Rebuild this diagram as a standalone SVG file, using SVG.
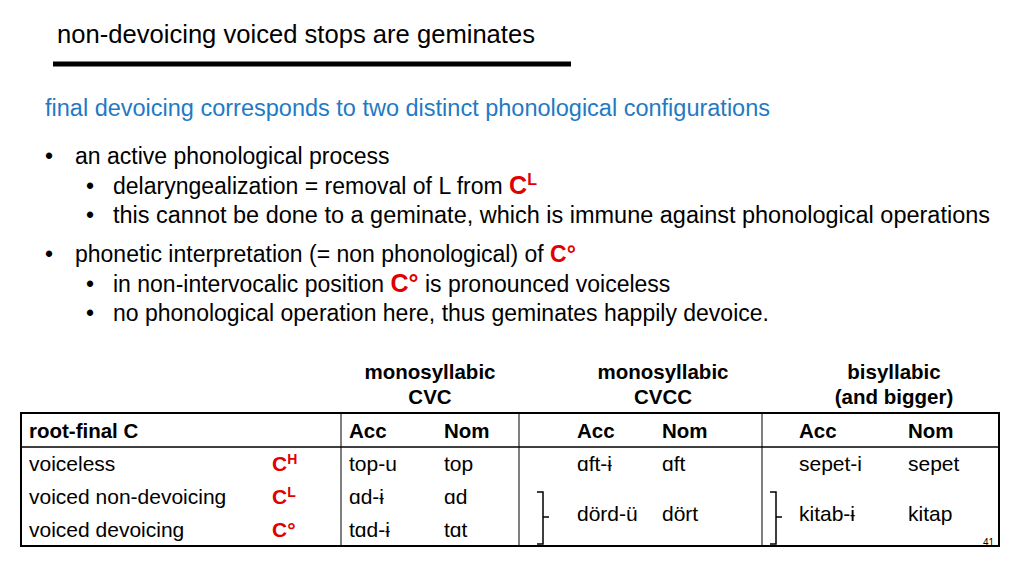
<svg xmlns="http://www.w3.org/2000/svg" width="1024" height="576" viewBox="0 0 1024 576">
<style>
text{font-family:"Liberation Sans",Arial,sans-serif;fill:#000}
.b{font-size:23px}
.t{font-size:21px}
.h{font-size:20.5px;font-weight:bold}
.r{fill:#e00000;font-weight:bold}
line,path{stroke:#000;fill:none}
</style>
<rect width="1024" height="576" fill="#fff"/>
<g id="title"><text x="57" y="43" font-size="25" textLength="478" lengthAdjust="spacingAndGlyphs">non-devoicing voiced stops are geminates</text>
<line x1="53" y1="64" x2="571" y2="64" stroke-width="5"/></g>
<g id="body">
<text x="45" y="116" font-size="23" textLength="725" lengthAdjust="spacingAndGlyphs" style="fill:#1f7ac4">final devoicing corresponds to two distinct phonological configurations</text>
<text class="b" x="45" y="164">•</text><text class="b" x="75" y="164">an active phonological process</text>
<text class="b" x="86" y="194">•</text><text class="b" x="113" y="194">delaryngealization = removal of L from <tspan class="r" font-size="25">C</tspan><tspan class="r" font-size="16" dy="-9">L</tspan></text>
<text class="b" x="86" y="223">•</text><text class="b" x="113" y="223" textLength="877" lengthAdjust="spacingAndGlyphs">this cannot be done to a geminate, which is immune against phonological operations</text>
<text class="b" x="45" y="262">•</text><text class="b" x="75" y="262">phonetic interpretation (= non phonological) of <tspan class="r">C°</tspan></text>
<text class="b" x="86" y="292">•</text><text class="b" x="113" y="292">in non-intervocalic position <tspan class="r" font-size="25">C°</tspan> is pronounced voiceless</text>
<text class="b" x="86" y="321">•</text><text class="b" x="113" y="321">no phonological operation here, thus geminates happily devoice.</text>
</g>
<g id="colheads" text-anchor="middle">
<text class="h" x="430" y="379">monosyllabic</text><text class="h" x="430" y="404">CVC</text>
<text class="h" x="663" y="379">monosyllabic</text><text class="h" x="663" y="404">CVCC</text>
<text class="h" x="894" y="379">bisyllabic</text><text class="h" x="894" y="404">(and bigger)</text>
</g>
<g id="table">
<rect x="21" y="413" width="978" height="133" fill="none" stroke="#000" stroke-width="2"/>
<line x1="21" y1="447" x2="999" y2="447" stroke-width="1.5"/>
<line x1="341" y1="413" x2="341" y2="546"/>
<line x1="519" y1="413" x2="519" y2="546"/>
<line x1="762" y1="413" x2="762" y2="546"/>
<text class="h" x="29" y="438">root-final C</text>
<text class="h" x="349" y="438">Acc</text><text class="h" x="444" y="438">Nom</text>
<text class="h" x="577" y="438">Acc</text><text class="h" x="662" y="438">Nom</text>
<text class="h" x="799" y="438">Acc</text><text class="h" x="908" y="438">Nom</text>
<text class="t" x="29" y="471">voiceless</text><text class="t r" x="272" y="471">C<tspan font-size="14" dy="-7">H</tspan></text>
<text class="t" x="29" y="504">voiced non-devoicing</text><text class="t r" x="272" y="504">C<tspan font-size="14" dy="-7">L</tspan></text>
<text class="t" x="29" y="537">voiced devoicing</text><text class="t r" x="272" y="537">C°</text>
<text class="t" x="349" y="471">top-u</text><text class="t" x="444" y="471">top</text>
<text class="t" x="349" y="504">ɑd-ɨ</text><text class="t" x="444" y="504">ɑd</text>
<text class="t" x="349" y="537">tɑd-ɨ</text><text class="t" x="444" y="537">tɑt</text>
<text class="t" x="577" y="471">ɑft-ɨ</text><text class="t" x="662" y="471">ɑft</text>
<text class="t" x="577" y="521">dörd-ü</text><text class="t" x="662" y="521">dört</text>
<text class="t" x="799" y="471">sepet-i</text><text class="t" x="908" y="471">sepet</text>
<text class="t" x="799" y="521">kitab-ɨ</text><text class="t" x="908" y="521">kitap</text>
<path d="M537 492 h6 v52 h-6 M543 517 h6" stroke-width="1.5"/>
<path d="M770 492 h6 v52 h-6 M776 517 h6" stroke-width="1.5"/>
<text x="983" y="546" font-size="10">41</text>
</g>
</svg>
